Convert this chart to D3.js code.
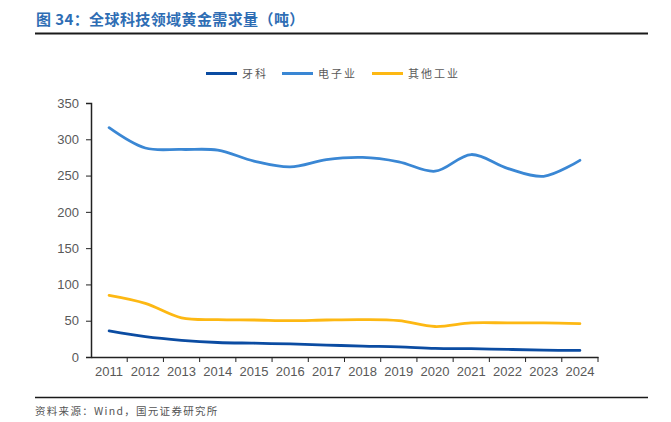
<!DOCTYPE html>
<html>
<head>
<meta charset="utf-8">
<script src="https://cdn.jsdelivr.net/npm/d3@7"></script>
<style>
  body { margin: 0; background: #fff; }
  svg { display: block; font-family: "Liberation Sans", Arial, sans-serif; }
</style>
</head>
<body>
<div id="chart"></div>
<script>
// data (tonnes)
const years = ["2011", "2012", "2013", "2014", "2015", "2016", "2017",
               "2018", "2019", "2020", "2021", "2022", "2023", "2024"];
const dental = [36, 28, 23, 20, 19, 18, 16.5, 15, 14, 12, 11.5, 10.5, 9.5, 9];
const electronics = [316, 288, 286, 285, 270, 262, 272, 275, 269, 256, 279, 260, 249, 271];
const otherIndustry = [85, 74, 54, 51.5, 51, 50, 51, 51.5, 50, 42, 47, 47, 47, 46];
const yTicks = [0, 50, 100, 150, 200, 250, 300, 350];

const series = [
  { name: "牙科", values: dental, color: "#0B4CA2" },
  { name: "电子业", values: electronics, color: "#3A87D4" },
  { name: "其他工业", values: otherIndustry, color: "#FDB813" }
];

const width = 671, height = 422;
const margin = { top: 103, right: 73, bottom: 65, left: 91 };
const chartWidth = width - margin.left - margin.right;
const chartHeight = height - margin.top - margin.bottom;

const svg = d3.select("#chart").append("svg")
  .attr("width", width)
  .attr("height", height);

// title + rules
svg.append("text")
  .attr("x", 36).attr("y", 25)
  .attr("fill", "#2E6DB4")
  .attr("font-size", "15px")
  .attr("font-weight", "bold")
  .attr("letter-spacing", "0.4px")
  .attr("font-family", "'Noto Sans CJK SC', sans-serif")
  .text("图 34：全球科技领域黄金需求量（吨）");

svg.append("line")
  .attr("x1", 35).attr("x2", 648).attr("y1", 33.5).attr("y2", 33.5)
  .attr("stroke", "#1a1a1a").attr("stroke-width", 2);

svg.append("line")
  .attr("x1", 35).attr("x2", 648).attr("y1", 397.5).attr("y2", 397.5)
  .attr("stroke", "#1a1a1a").attr("stroke-width", 1.5);

svg.append("text")
  .attr("x", 35).attr("y", 415)
  .attr("fill", "#555")
  .attr("font-size", "10.5px")
  .attr("letter-spacing", "1.3px")
  .attr("font-family", "'Noto Sans CJK SC', sans-serif")
  .text("资料来源：Wind，国元证券研究所");

// legend
const legendX = [206, 282, 372];
const legend = svg.append("g").attr("class", "legend");
series.forEach((s, i) => {
  const g = legend.append("g").attr("transform", `translate(${legendX[i]},73.5)`);
  g.append("line")
    .attr("x1", 0).attr("x2", 31)
    .attr("stroke", s.color).attr("stroke-width", 3);
  g.append("text")
    .attr("x", 36).attr("y", 4)
    .attr("fill", "#595959")
    .attr("font-size", "11px")
    .attr("letter-spacing", "2px")
    .attr("font-family", "'Noto Sans CJK SC', sans-serif")
    .text(s.name);
});

const chartArea = svg.append("g")
  .attr("transform", `translate(${margin.left},${margin.top})`);

const xScale = d3.scaleBand().domain(years).range([0, chartWidth]);
const yScale = d3.scaleLinear().domain([0, 350]).range([chartHeight, 0]);

// axes
const bottomAxis = d3.axisBottom(xScale).tickSize(0).tickPadding(10);
const bottomAxisG = chartArea.append("g")
  .attr("class", "x axis")
  .attr("transform", `translate(0,${chartHeight})`)
  .call(bottomAxis);
bottomAxisG.select(".domain").attr("stroke", "#222").attr("stroke-width", 1.5);
bottomAxisG.selectAll("text").attr("fill", "#595959").attr("font-size", "13px");

// tick marks at band boundaries
const boundaries = years.map(y => xScale(y)).concat([chartWidth]);
bottomAxisG.selectAll("line.bound").data(boundaries.slice(1))
  .join("line")
  .attr("class", "bound")
  .attr("x1", d => d).attr("x2", d => d)
  .attr("y1", 0).attr("y2", 5)
  .attr("stroke", "#222").attr("stroke-width", 1);

const leftAxis = d3.axisLeft(yScale).tickValues(yTicks).tickSize(5).tickPadding(7).tickSizeOuter(5);
const leftAxisG = chartArea.append("g")
  .attr("class", "y axis")
  .call(leftAxis);
leftAxisG.select(".domain").attr("stroke", "#222").attr("stroke-width", 1.5);
leftAxisG.selectAll(".tick line").attr("stroke", "#222");
leftAxisG.selectAll("text").attr("fill", "#595959").attr("font-size", "13px");

// lines
const line = d3.line()
  .x((d, i) => xScale(years[i]) + xScale.bandwidth() / 2)
  .y(d => yScale(d))
  .curve(d3.curveCatmullRom.alpha(0.5));

chartArea.selectAll("path.series").data(series)
  .join("path")
  .attr("class", "series")
  .attr("fill", "none")
  .attr("stroke", d => d.color)
  .attr("stroke-width", 2.8)
  .attr("stroke-linecap", "round")
  .attr("d", d => line(d.values));
</script>
</body>
</html>
